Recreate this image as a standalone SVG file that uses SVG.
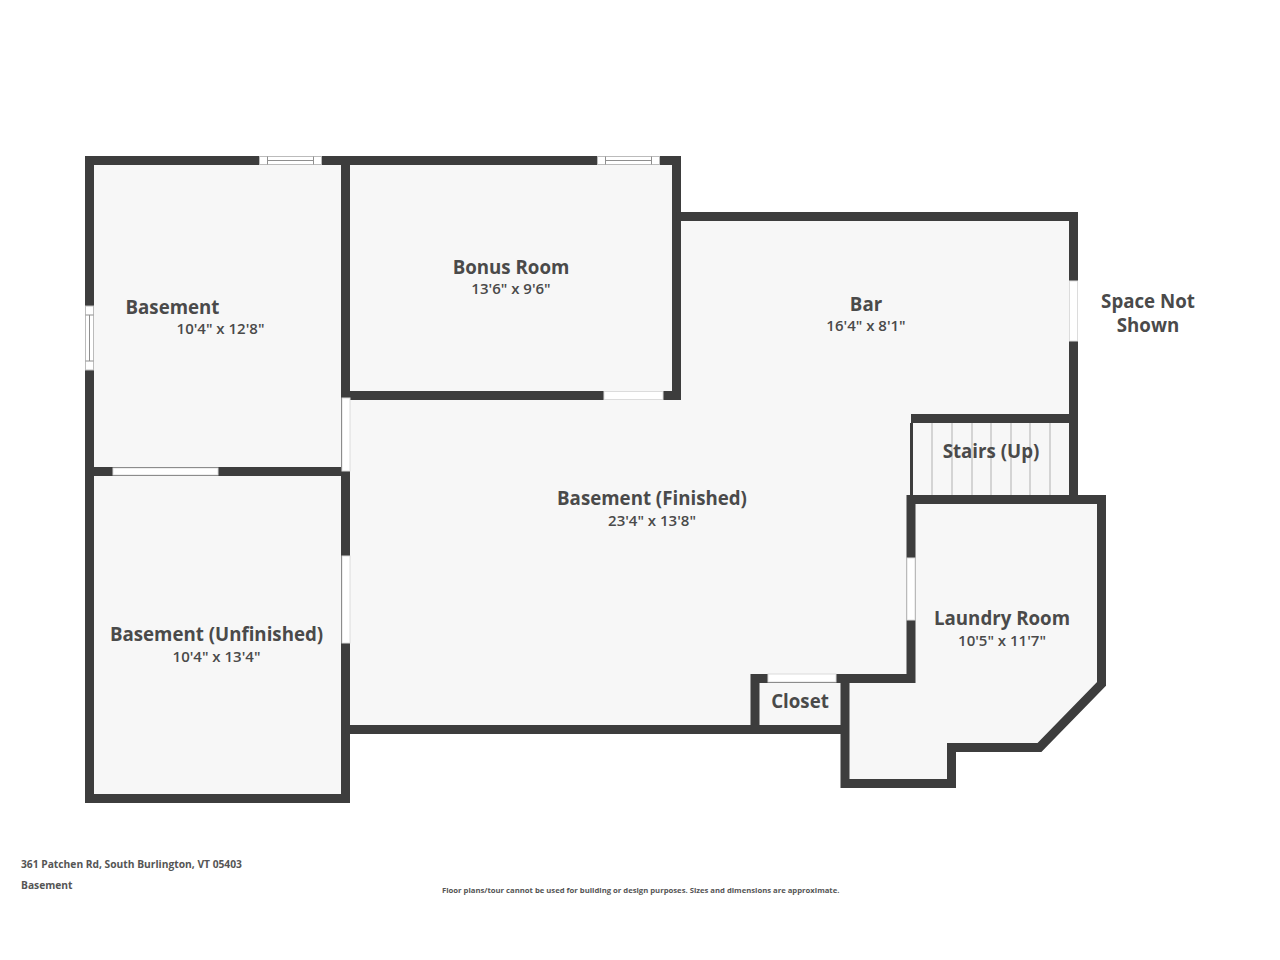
<svg xmlns="http://www.w3.org/2000/svg" width="1280" height="960" viewBox="0 0 1280 960">
<style>
.w{fill:none;stroke:#3d3d3d;stroke-width:9;stroke-linecap:square;stroke-linejoin:miter}
.d{fill:#fff;stroke:#dcdcdc;stroke-width:1}
.l{stroke:#bdbdbd;stroke-width:1.2;fill:none}
.win{fill:none;stroke:#8f8f8f;stroke-width:1}
.wb{fill:#fff;stroke:#bbb;stroke-width:1}
text{font-family:"Open Sans","Noto Sans","Liberation Sans",sans-serif;text-anchor:middle}
.n{font-size:18.7px;font-weight:700;fill:#4a4a4a}
.s{font-size:15px;font-weight:600;fill:#4a4a4a}
.f{font-size:10.25px;font-weight:700;fill:#555;text-anchor:start}
</style>
<rect width="1280" height="960" fill="#fff"/>
<path fill="#f7f7f7" d="M89.500 160.500H676.500V216.500H1073.500V499.500H1101.500V683.500L1040 747.500H951.500V783.500H845V729.500H345.500V798.500H89.500Z"/>
<g id="stairs">
<path class="l" d="M932 423V495M952 423V495M972 423V495M991 423V495M1011 423V495M1030 423V495M1050 423V495"/>
<path d="M911.500 423V495" stroke="#3d3d3d" stroke-width="3" fill="none"/>
</g>
<g id="walls">
<path class="w" d="M89.500 160.500H676.500V395.500H345.500M345.500 160.500V798.500H89.500V160.500M94 471.500H345.500"/>
<path class="w" d="M681 216.500H1073.500V499.500M915.500 418.500H1069"/>
<path class="w" d="M911 499.500H1101.500V684L1039.500 747.500H951.500V783.500H845V678.500H755V729.500M350 729.500H845M845 678.500H911V499.500"/>
</g>
<g id="openings">
<rect class="d" x="113" y="468" width="105" height="7"/>
<rect class="d" x="342" y="398" width="8" height="73"/>
<rect class="d" x="342" y="556" width="8" height="87"/>
<rect class="d" x="604" y="391.500" width="59" height="8"/>
<rect class="d" x="1069.500" y="281" width="8" height="60"/>
<rect class="d" x="907" y="558" width="8" height="62"/>
<rect class="d" x="768" y="674" width="68" height="8"/>
</g>
<g id="windows">
<rect class="wb" x="259.500" y="156.500" width="62" height="8"/>
<path class="win" d="M267.500 156.500V164.500M313.500 156.500V164.500M267.500 160.500H313.500"/>
<rect class="wb" x="597.500" y="156.500" width="62" height="8"/>
<path class="win" d="M605.500 156.500V164.500M651.500 156.500V164.500M605.500 160.500H651.500"/>
<rect class="wb" x="85.500" y="306" width="8" height="64"/>
<path class="win" d="M85.500 315H93.500M85.500 361H93.500M89.500 315V361"/>
</g>
<g id="labels">
<text class="n" x="172.500" y="313.500">Basement</text>
<text class="s" x="220.500" y="334">10'4" x 12'8"</text>
<text class="n" x="511" y="273.500">Bonus Room</text>
<text class="s" x="511" y="293.500">13'6" x 9'6"</text>
<text class="n" x="866" y="311">Bar</text>
<text class="s" x="866" y="331">16'4" x 8'1"</text>
<text class="n" x="1148" y="308">Space Not</text>
<text class="n" x="1148" y="332">Shown</text>
<text class="n" x="991" y="458">Stairs (Up)</text>
<text class="n" x="652" y="505">Basement (Finished)</text>
<text class="s" x="652" y="526">23'4" x 13'8"</text>
<text class="n" x="1002" y="625">Laundry Room</text>
<text class="s" x="1002" y="646">10'5" x 11'7"</text>
<text class="n" x="216.500" y="641">Basement (Unfinished)</text>
<text class="s" x="216.500" y="662">10'4" x 13'4"</text>
<text class="n" x="800" y="708">Closet</text>
</g>
<g id="footer">
<text class="f" x="21" y="868">361 Patchen Rd, South Burlington, VT 05403</text>
<text class="f" x="21" y="889">Basement</text>
<text class="f" x="442" y="893" style="font-size:7.7px">Floor plans/tour cannot be used for building or design purposes. Sizes and dimensions are approximate.</text>
</g>
</svg>
